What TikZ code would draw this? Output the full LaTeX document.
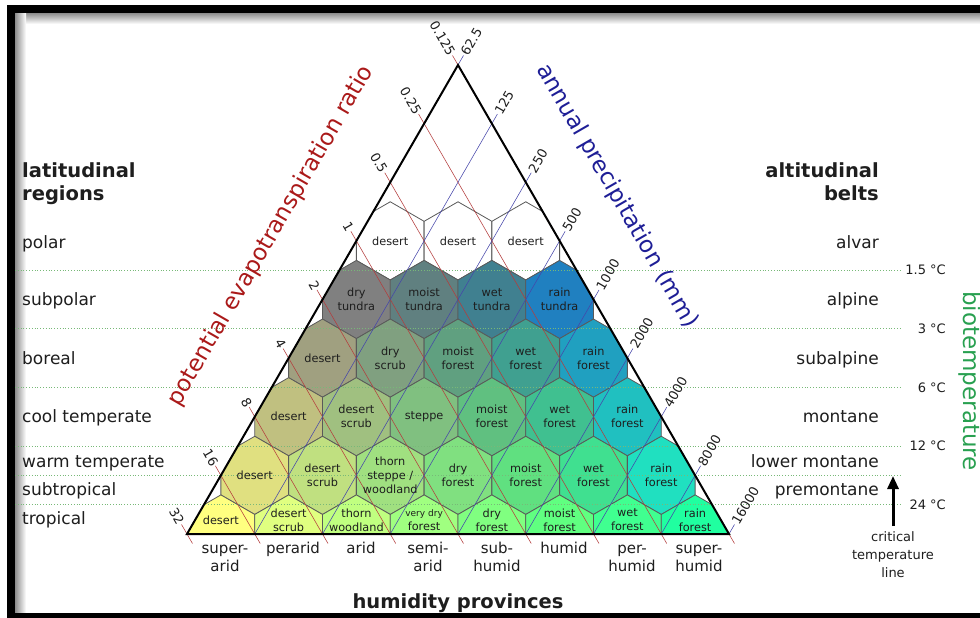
\documentclass[tikz,border=0pt]{standalone}
\usepackage{fontspec}
\setmainfont{DejaVu Sans}
\usetikzlibrary{arrows.meta}

\definecolor{petred}{RGB}{170,25,25}
\definecolor{precblue}{RGB}{30,30,150}
\definecolor{biogreen}{RGB}{40,160,80}
\definecolor{gridred}{RGB}{180,60,60}
\definecolor{gridblue}{RGB}{70,70,170}
\definecolor{tline}{RGB}{120,185,120}
\definecolor{hexgray}{RGB}{90,90,90}
\definecolor{txt}{RGB}{30,30,30}

\definecolor{c31}{HTML}{FFFFFF}\definecolor{c32}{HTML}{FFFFFF}\definecolor{c33}{HTML}{FFFFFF}
\definecolor{c41}{HTML}{808080}\definecolor{c42}{HTML}{608080}\definecolor{c43}{HTML}{408090}\definecolor{c44}{HTML}{2080C0}
\definecolor{c51}{HTML}{A0A080}\definecolor{c52}{HTML}{80A080}\definecolor{c53}{HTML}{60A080}\definecolor{c54}{HTML}{40A090}\definecolor{c55}{HTML}{20A0C0}
\definecolor{c61}{HTML}{C0C080}\definecolor{c62}{HTML}{A0C080}\definecolor{c63}{HTML}{80C080}\definecolor{c64}{HTML}{60C080}\definecolor{c65}{HTML}{40C090}\definecolor{c66}{HTML}{20C0C0}
\definecolor{c71}{HTML}{E0E080}\definecolor{c72}{HTML}{C0E080}\definecolor{c73}{HTML}{A0E080}\definecolor{c74}{HTML}{80E080}\definecolor{c75}{HTML}{60E080}\definecolor{c76}{HTML}{40E090}\definecolor{c77}{HTML}{20E0C0}
\definecolor{c81}{HTML}{FFFF80}\definecolor{c82}{HTML}{E0FF80}\definecolor{c83}{HTML}{C0FF80}\definecolor{c84}{HTML}{A0FF80}\definecolor{c85}{HTML}{80FF80}\definecolor{c86}{HTML}{60FF80}\definecolor{c87}{HTML}{40FF90}\definecolor{c88}{HTML}{20FFA0}

\newcommand\hexcell[3]{%
  \pgfmathsetmacro\hx{458+(2*#2-#1-1)*33.875}%
  \pgfmathsetmacro\hy{65+#1*58.625}%
  \filldraw[hexedge,fill=#3] (\hx,\hy-39.1) -- ++(33.875,19.55) -- ++(0,39.1) -- ++(-33.875,19.55) -- ++(-33.875,-19.55) -- ++(0,-39.1) -- cycle;}
\newcommand\hexlabel[4]{%
  \pgfmathsetmacro\hx{458+(2*#3-#2-1)*33.875}%
  \ifnum#2=8\relax\def\hy{520}\else\pgfmathsetmacro\hy{65+#2*58.625}\fi
  \node[hexlbl] (#1) at (\hx,\hy) {#4};}

\begin{document}
\begin{tikzpicture}[x=1pt,y=-1pt,
  hexedge/.style={draw=hexgray,line width=0.8pt,line join=miter},
  hexlbl/.style={font=\fontsize{11.3}{14}\selectfont,align=center,text=txt,inner sep=0pt},
  petline/.style={draw=gridred,line width=0.55pt},
  precline/.style={draw=gridblue,line width=0.55pt},
  templine/.style={draw=tline,line width=0.8pt,dotted},
  ticklbl/.style={font=\fontsize{13}{15}\selectfont,text=txt,inner sep=1pt},
  regionlbl/.style={font=\fontsize{17}{20}\selectfont,text=txt,inner sep=0pt},
  headlbl/.style={font=\bfseries\fontsize{19.5}{22}\selectfont,text=txt,inner sep=0pt},
  templbl/.style={font=\fontsize{13}{15}\selectfont,text=txt,inner sep=0pt,anchor=east},
  humlbl/.style={font=\fontsize{15}{18}\selectfont,text=txt,inner sep=0pt,align=center,anchor=north},
  titlelbl/.style={font=\fontsize{23}{27}\selectfont,inner sep=0pt}
]
\useasboundingbox (0,0) rectangle (980,618);
\fill[white] (0,0) rectangle (980,618);
% frame and its shadow
\shade[top color=black!45,bottom color=white] (15,13) rectangle (980,24);
\shade[left color=black!45,right color=white] (15,13) rectangle (26,613);
\fill[black] (7,5) rectangle (980,13);
\fill[black] (7,5) rectangle (15,618);
\fill[black] (7,613) rectangle (980,618);

\coordinate (A) at (458,65);
\coordinate (L) at (187,534);
\coordinate (R) at (729,534);

% hexagons
\begin{scope}
\clip (A) -- (L) -- (R) -- cycle;
\hexcell{3}{1}{c31}\hexcell{3}{2}{c32}\hexcell{3}{3}{c33}
\hexcell{4}{1}{c41}\hexcell{4}{2}{c42}\hexcell{4}{3}{c43}\hexcell{4}{4}{c44}
\hexcell{5}{1}{c51}\hexcell{5}{2}{c52}\hexcell{5}{3}{c53}\hexcell{5}{4}{c54}\hexcell{5}{5}{c55}
\hexcell{6}{1}{c61}\hexcell{6}{2}{c62}\hexcell{6}{3}{c63}\hexcell{6}{4}{c64}\hexcell{6}{5}{c65}\hexcell{6}{6}{c66}
\hexcell{7}{1}{c71}\hexcell{7}{2}{c72}\hexcell{7}{3}{c73}\hexcell{7}{4}{c74}\hexcell{7}{5}{c75}\hexcell{7}{6}{c76}\hexcell{7}{7}{c77}
\hexcell{8}{1}{c81}\hexcell{8}{2}{c82}\hexcell{8}{3}{c83}\hexcell{8}{4}{c84}\hexcell{8}{5}{c85}\hexcell{8}{6}{c86}\hexcell{8}{7}{c87}\hexcell{8}{8}{c88}
\end{scope}

% biotemperature lines
\foreach \yy/\nm in {270.19/a,328.81/b,387.44/c,446.06/d,475.375/e,504.69/f}{
  \coordinate (gl\nm) at (15,\yy);
  \coordinate (gr\nm) at (900,\yy);
  \draw[templine] (gl\nm) -- (gr\nm);
}

% PET ratio lines
\foreach \k/\lab in {0/0.125,1/0.25,2/0.5,3/1,4/2,5/4,6/8,7/16,8/32}{
  \coordinate (pa\k) at ({458-\k*33.875-5.5},{65+\k*58.625-9.53});
  \coordinate (pb\k) at ({458+(8-2*\k)*33.875+5.5},{534+9.53});
  \draw[petline] (pa\k) -- (pb\k);
  \node[ticklbl,rotate=-60,anchor=east] (pl\k) at (pa\k) {\lab};
}
% precipitation lines
\foreach \j/\lab in {0/62.5,1/125,2/250,3/500,4/1000,5/2000,6/4000,7/8000,8/16000}{
  \coordinate (qa\j) at ({458+\j*33.875+5.5},{65+\j*58.625-9.53});
  \coordinate (qb\j) at ({458-(8-2*\j)*33.875},534);
  \draw[precline] (qa\j) -- (qb\j);
  \node[ticklbl,rotate=60,anchor=west] (ql\j) at (qa\j) {\lab};
}

\draw[line width=2pt,line join=miter] (A) -- (L) -- (R) -- cycle;

% hexagon labels
\hexlabel{z31}{3}{1}{desert}\hexlabel{z32}{3}{2}{desert}\hexlabel{z33}{3}{3}{desert}
\hexlabel{z41}{4}{1}{dry\\tundra}\hexlabel{z42}{4}{2}{moist\\tundra}\hexlabel{z43}{4}{3}{wet\\tundra}\hexlabel{z44}{4}{4}{rain\\tundra}
\hexlabel{z51}{5}{1}{desert}\hexlabel{z52}{5}{2}{dry\\scrub}\hexlabel{z53}{5}{3}{moist\\forest}\hexlabel{z54}{5}{4}{wet\\forest}\hexlabel{z55}{5}{5}{rain\\forest}
\hexlabel{z61}{6}{1}{desert}\hexlabel{z62}{6}{2}{desert\\scrub}\hexlabel{z63}{6}{3}{steppe}\hexlabel{z64}{6}{4}{moist\\forest}\hexlabel{z65}{6}{5}{wet\\forest}\hexlabel{z66}{6}{6}{rain\\forest}
\hexlabel{z71}{7}{1}{desert}\hexlabel{z72}{7}{2}{desert\\scrub}\hexlabel{z73}{7}{3}{thorn\\steppe /\\woodland}\hexlabel{z74}{7}{4}{dry\\forest}\hexlabel{z75}{7}{5}{moist\\forest}\hexlabel{z76}{7}{6}{wet\\forest}\hexlabel{z77}{7}{7}{rain\\forest}
\hexlabel{z81}{8}{1}{desert}\hexlabel{z82}{8}{2}{desert\\scrub}\hexlabel{z83}{8}{3}{thorn\\woodland}\hexlabel{z84}{8}{4}{{\fontsize{9}{10}\selectfont very dry}\\forest}\hexlabel{z85}{8}{5}{dry\\forest}\hexlabel{z86}{8}{6}{moist\\forest}\hexlabel{z87}{8}{7}{wet\\forest}\hexlabel{z88}{8}{8}{rain\\forest}

% axis titles
\node[titlelbl,rotate=60,text=petred] (pet) at (271,236) {potential evapotranspiration ratio};
\node[titlelbl,rotate=-60,text=precblue] (prec) at (617,196) {annual precipitation (mm)};
\node[titlelbl,rotate=-90,text=biogreen] (bio) at (969.5,381) {biotemperature};

% left: latitudinal regions
\node[headlbl,anchor=base west] (lat1) at (22,177) {latitudinal};
\node[headlbl,anchor=base west] (lat2) at (22,200) {regions};
\node[regionlbl,anchor=base west] (polar) at (22,248) {polar};
\node[regionlbl,anchor=base west] (subpolar) at (22,305.5) {subpolar};
\node[regionlbl,anchor=base west] (boreal) at (22,364.5) {boreal};
\node[regionlbl,anchor=base west] (cooltemp) at (22,422.5) {cool temperate};
\node[regionlbl,anchor=base west] (warmtemp) at (22,467.5) {warm temperate};
\node[regionlbl,anchor=base west] (subtrop) at (22,495.5) {subtropical};
\node[regionlbl,anchor=base west] (trop) at (22,524.5) {tropical};

% right: altitudinal belts
\node[headlbl,anchor=base east] (alt1) at (879,177) {altitudinal};
\node[headlbl,anchor=base east] (alt2) at (879,200) {belts};
\node[regionlbl,anchor=base east] (alvar) at (879,248) {alvar};
\node[regionlbl,anchor=base east] (alpine) at (879,305.5) {alpine};
\node[regionlbl,anchor=base east] (subalpine) at (879,364.5) {subalpine};
\node[regionlbl,anchor=base east] (montane) at (879,422.5) {montane};
\node[regionlbl,anchor=base east] (lowmont) at (879,467.5) {lower montane};
\node[regionlbl,anchor=base east] (premont) at (879,495.5) {premontane};

% temperatures
\node[templbl] (t1) at (946,270.2) {1.5 °C};
\node[templbl] (t2) at (946,328.8) {3 °C};
\node[templbl] (t3) at (946,387.4) {6 °C};
\node[templbl] (t4) at (946,446.1) {12 °C};
\node[templbl] (t5) at (946,504.7) {24 °C};

% critical temperature line
\coordinate (critTop) at (893,476);
\coordinate (critBot) at (893,526);
\node[font=\fontsize{13}{18}\selectfont,text=txt,align=center,anchor=north,inner sep=0pt] (crit) at (893,529) {\strut critical\\temperature\\line};
\draw[line width=3pt,black,-{Triangle[length=13pt,width=11pt]}] (critBot) -- (critTop);

% humidity provinces
\node[humlbl] (h1) at (225,541) {\strut super-\\arid};
\node[humlbl] (h2) at (293,541) {\strut perarid};
\node[humlbl] (h3) at (361,541) {\strut arid};
\node[humlbl] (h4) at (428,541) {\strut semi-\\arid};
\node[humlbl] (h5) at (497,541) {\strut sub-\\humid};
\node[humlbl] (h6) at (564,541) {\strut humid};
\node[humlbl] (h7) at (632,541) {\strut per-\\humid};
\node[humlbl] (h8) at (699,541) {\strut super-\\humid};
\node[font=\bfseries\fontsize{19.5}{22}\selectfont,text=txt,inner sep=0pt,anchor=base] (humtitle) at (458,608) {humidity provinces};
\end{tikzpicture}
\end{document}
